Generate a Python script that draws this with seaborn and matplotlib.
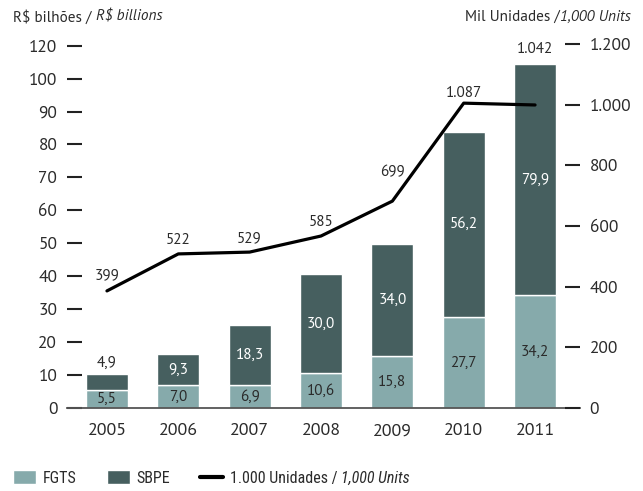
import numpy as np
import pandas as pd
import matplotlib
matplotlib.use("Agg")
import matplotlib.pyplot as plt
import seaborn as sns
from matplotlib.patches import Patch
from matplotlib.lines import Line2D
from matplotlib.transforms import IdentityTransform


# Data
years = ["2005", "2006", "2007", "2008", "2009", "2010", "2011"]
fgts = [5.5, 7.0, 6.9, 10.6, 15.8, 27.7, 34.2]
sbpe = [4.9, 9.3, 18.3, 30.0, 34.0, 56.2, 79.9]
# the 2011 SBPE bar is drawn shorter than its label in the original
sbpe_drawn = [4.9, 9.3, 18.3, 30.0, 34.0, 56.2, 70.2]
units = [386, 508, 514, 567, 682, 1005, 999]
unit_labels = ["399", "522", "529", "585", "699", "1.087", "1.042"]
left_ticks = [0, 10, 20, 30, 40, 50, 60, 70, 80, 90, 100, 110]
left_tick_labels = ["0", "10", "20", "30", "40", "50", "60", "70", "80", "90", "100", "120"]
right_ticks = [0, 200, 400, 600, 800, 1000, 1200]

# Style
FGTS_COLOR = "#86aaab"
SBPE_COLOR = "#465f5f"
TEXT_COLOR = "#2b2b2b"
MAIN_FONT = "PT Sans"
LEGEND_FONT = "Roboto Condensed"
unit_offsets = [11, 10, 10, 10, 21, 7, 40]

sns.set_style("white")
plt.rcParams["font.family"] = [MAIN_FONT, "DejaVu Sans"]


def fmt(v):
    return f"{v:.1f}".replace(".", ",")


# Draw a run of text pieces (normal / italic) one after another, in pixels
def rich_text(fig, x, y, parts, ha="left", **kw):
    renderer = fig.canvas.get_renderer()
    texts = []
    for s, style in parts:
        t = fig.text(0, y, s, style=style, transform=IdentityTransform(),
                     va="center", ha="left", **kw)
        texts.append(t)
    widths = [t.get_window_extent(renderer).width for t in texts]
    start = x - sum(widths) if ha == "right" else x
    for t, w in zip(texts, widths):
        t.set_x(start)
        start += w
    return texts


fig = plt.figure(figsize=(6.43, 4.91), dpi=100)
ax = fig.add_axes([67 / 643, 1 - 408 / 491, (580 - 67) / 643, (408 - 44) / 491])

df = pd.DataFrame({"year": years, "fgts": fgts, "sbpe": sbpe_drawn})

sns.barplot(data=df, x="year", y="fgts", color=FGTS_COLOR, width=0.59,
            saturation=1, ax=ax)
sns.barplot(data=df, x="year", y="sbpe", bottom=df["fgts"], color=SBPE_COLOR,
            width=0.59, saturation=1, ax=ax)

# Bar value labels
for i, (f, s, sd) in enumerate(zip(fgts, sbpe, sbpe_drawn)):
    ax.text(i, f / 2, fmt(f), ha="center", va="center", fontsize=11,
            color=TEXT_COLOR)
    if sd < 6:
        ax.text(i, f + sd + 3.3, fmt(s), ha="center", va="center",
                fontsize=11, color=TEXT_COLOR)
    else:
        ax.text(i, f + sd / 2, fmt(s), ha="center", va="center",
                fontsize=11, color="white")

ax.set_ylim(0, 110.5)
ax.set_yticks(left_ticks)
ax.set_yticklabels(left_tick_labels)
ax.set_xlim(-0.56, 6.63)
ax.set_xlabel("")
ax.set_ylabel("")

for side in ["top", "left", "right"]:
    ax.spines[side].set_visible(False)
ax.spines["bottom"].set_color("#555555")
ax.spines["bottom"].set_linewidth(1.3)

ax.tick_params(axis="y", direction="in", length=11, width=1.5, color="#222222",
               pad=7, labelsize=12.5, labelcolor=TEXT_COLOR)
ax.tick_params(axis="x", length=0, pad=11, labelsize=13, labelcolor=TEXT_COLOR)

# Units line on secondary axis
ax2 = ax.twinx()
line_df = pd.DataFrame({"pos": np.arange(len(years)), "units": units})
sns.lineplot(data=line_df, x="pos", y="units", color="black", linewidth=2.3,
             ax=ax2)
for i, (u, lab, off) in enumerate(zip(units, unit_labels, unit_offsets)):
    ax2.annotate(lab, (i, u), xytext=(0, off), textcoords="offset points",
                 ha="center", va="center", fontsize=11, color=TEXT_COLOR)

ax2.set_ylim(0, 1200)
ax2.set_yticks(right_ticks)
ax2.set_yticklabels([f"{v:,}".replace(",", ".") for v in right_ticks])
ax2.set_xlim(-0.56, 6.63)
ax2.set_xlabel("")
ax2.set_ylabel("")
for side in ["top", "left", "right", "bottom"]:
    ax2.spines[side].set_visible(False)
ax2.tick_params(axis="y", direction="in", length=11, width=1.5, color="#222222",
                pad=7, labelsize=12.5, labelcolor=TEXT_COLOR)

# Axis titles
rich_text(fig, 13, 491 - 17, [("R$ bilhões / ", "normal"), ("R$ billions", "italic")],
          fontsize=11, color=TEXT_COLOR)
rich_text(fig, 631, 491 - 17, [("Mil Unidades /", "normal"), ("1,000 Units", "italic")],
          ha="right", fontsize=11, color=TEXT_COLOR)

# Legend
handles = [
    Patch(facecolor=FGTS_COLOR, label="FGTS"),
    Patch(facecolor=SBPE_COLOR, label="SBPE"),
    Line2D([0], [0], color="black", linewidth=3, label="1.000 Unidades / "),
]
leg = fig.legend(handles=handles, loc="center left",
                 bbox_to_anchor=(13 / 643, 1 - 478 / 491), ncol=3, frameon=False,
                 prop={"family": LEGEND_FONT, "size": 11.5},
                 handlelength=1.45, handleheight=0.95,
                 handletextpad=0.4, columnspacing=1.9, borderpad=0,
                 borderaxespad=0, labelcolor=TEXT_COLOR)
fig.canvas.draw()
renderer = fig.canvas.get_renderer()
last = leg.get_texts()[-1].get_window_extent(renderer)
fig.text(last.x1, (last.y0 + last.y1) / 2, "1,000 Units", style="italic",
         family=LEGEND_FONT, fontsize=11.5, color=TEXT_COLOR,
         transform=IdentityTransform(), va="center", ha="left")

fig.savefig("out.png", dpi=100)
